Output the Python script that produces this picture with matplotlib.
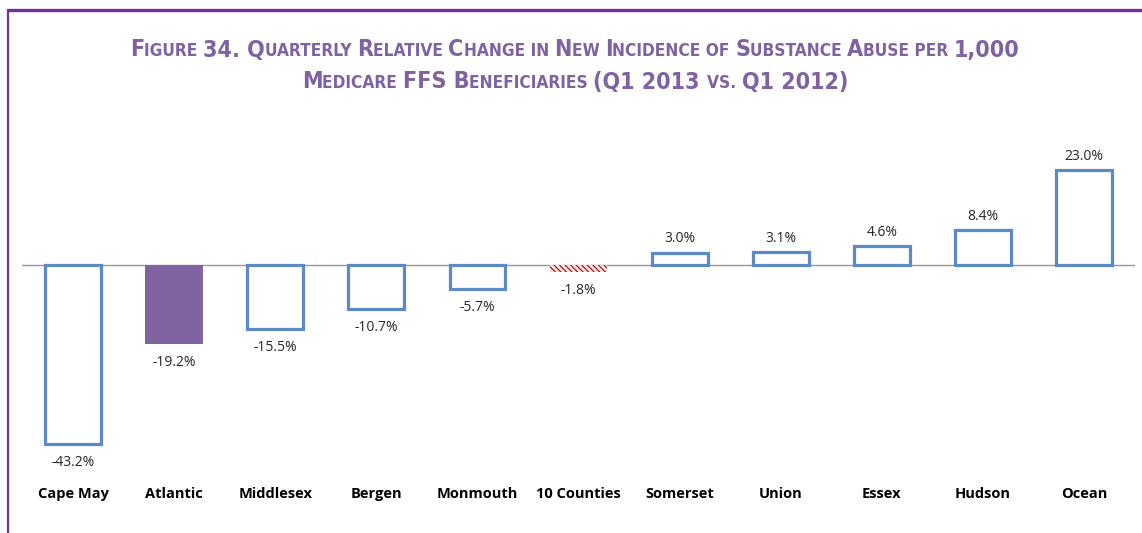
import matplotlib
matplotlib.use("Agg")
import matplotlib.pyplot as plt
import matplotlib.transforms as mtransforms
from matplotlib.offsetbox import TextArea, HPacker, AnchoredOffsetbox
from matplotlib.lines import Line2D

categories = ["Cape May", "Atlantic", "Middlesex", "Bergen", "Monmouth", "10 Counties",
              "Somerset", "Union", "Essex", "Hudson", "Ocean"]
values = [-43.2, -19.2, -15.5, -10.7, -5.7, -1.8, 3.0, 3.1, 4.6, 8.4, 23.0]
value_labels = ["-43.2%", "-19.2%", "-15.5%", "-10.7%", "-5.7%", "-1.8%",
                "3.0%", "3.1%", "4.6%", "8.4%", "23.0%"]
title_line1 = "Figure 34. Quarterly Relative Change in New Incidence of Substance Abuse per 1,000"
title_line2 = "Medicare FFS Beneficiaries (Q1 2013 vs. Q1 2012)"

W, H = 1142, 533
fig = plt.figure(figsize=(W / 100, H / 100), dpi=100)
fig.patch.set_facecolor("white")

blue = "#5B8AC6"
purple_fill = "#8064A2"
title_color = "#7F62A1"
frame_color = "#7030A0"

ax_left, ax_right = 22.5, 1134.6
ax_top, ax_bottom = 150, 470
ax = fig.add_axes([ax_left / W, 1 - ax_bottom / H, (ax_right - ax_left) / W, (ax_bottom - ax_top) / H])
ax.set_xlim(-0.5, len(categories) - 0.5)
ax.set_ylim(-49.6, 27.8)
ax.axis("off")

ax.axhline(0, color="#969696", lw=1.0, zorder=1)

bw = 0.57
plt.rcParams["hatch.linewidth"] = 0.8
for i, (v, lab) in enumerate(zip(values, value_labels)):
    if categories[i] == "Atlantic":
        ax.bar(i, v, width=bw, color=purple_fill, lw=0, zorder=2)
    elif categories[i] == "10 Counties":
        ax.bar(i, v, width=bw, facecolor="#f3e6e6", edgecolor="#B00000", hatch="\\\\\\\\\\\\", lw=0, zorder=2)
    else:
        ax.bar(i, v, width=bw * 0.97, facecolor="white", edgecolor=blue, lw=2.3, zorder=2)
    if v < 0:
        ax.annotate(lab, (i, v), xytext=(0, -8), textcoords="offset points",
                    ha="center", va="top", fontsize=10, color="#262626", family="Open Sans")
    else:
        ax.annotate(lab, (i, v), xytext=(0, 4.5), textcoords="offset points",
                    ha="center", va="bottom", fontsize=10, color="#262626", family="Open Sans")

cat_tr = mtransforms.blended_transform_factory(ax.transData, fig.transFigure)
for i, c in enumerate(categories):
    fig.text(i, 1 - 494 / H, c, transform=cat_tr, ha="center", va="center",
             fontsize=10.5, fontweight="bold", color="black", family="Open Sans")

big, small = 16.7, 12.4
fam = ["DejaVu Sans"]

def small_caps_box(line):
    parts = []
    cur, cur_small = "", None
    for ch in line:
        if ch in " .,":
            is_small = cur_small if cur_small is not None else False
        else:
            is_small = ch.islower()
        if cur_small is None or is_small == cur_small:
            cur += ch
            cur_small = is_small
        else:
            parts.append((cur, cur_small))
            cur, cur_small = ch, is_small
    if cur:
        parts.append((cur, cur_small))
    areas = []
    for txt, sm in parts:
        areas.append(TextArea(txt.upper(), textprops=dict(
            fontsize=small if sm else big, fontweight="bold", color=title_color,
            family=fam, fontstretch="condensed")))
    return HPacker(children=areas, align="baseline", pad=0, sep=0)

for line, ypx in [(title_line1, 50), (title_line2, 82)]:
    box = small_caps_box(line)
    ab = AnchoredOffsetbox(loc="center", child=box, pad=0, frameon=False,
                           bbox_to_anchor=(575 / W, 1 - ypx / H), bbox_transform=fig.transFigure,
                           borderpad=0)
    fig.add_artist(ab)

fig.add_artist(Line2D([6.5 / W, 1.0], [1 - 10 / H, 1 - 10 / H], transform=fig.transFigure,
                      color=frame_color, lw=2.4, solid_capstyle="butt"))
fig.add_artist(Line2D([7.5 / W, 7.5 / W], [1 - 9 / H, 0], transform=fig.transFigure,
                      color=frame_color, lw=1.6, solid_capstyle="butt"))

fig.savefig("out.png", dpi=100)
